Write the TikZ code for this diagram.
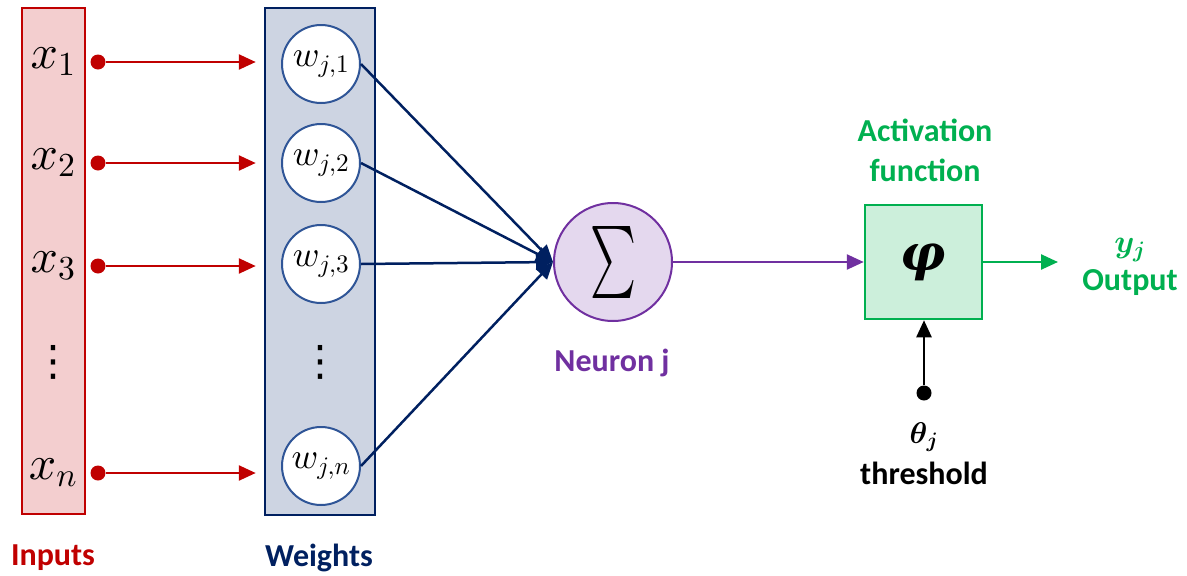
\documentclass[tikz,border=0pt]{standalone}
\usepackage[no-math]{fontspec}
\setmainfont{Carlito}
\newfontfamily\symfont{DejaVu Sans}
\newfontfamily\greekfont{DejaVu Serif}
\usepackage{bm}
\usepackage{graphicx}
\usetikzlibrary{arrows.meta,positioning}
% scalable math fonts
\DeclareFontShape{OML}{cmm}{m}{it}{<->cmmi10}{}
\DeclareFontShape{OML}{cmm}{b}{it}{<->cmmib10}{}
\DeclareFontShape{OMS}{cmsy}{m}{n}{<->cmsy10}{}
\DeclareFontShape{OMS}{cmsy}{b}{n}{<->cmbsy10}{}
\DeclareFontShape{OT1}{cmr}{m}{n}{<->cmr10}{}
\DeclareFontShape{OT1}{cmr}{bx}{n}{<->cmbx10}{}
\definecolor{inred}{RGB}{192,0,0}
\definecolor{inredfill}{RGB}{243,206,207}
\definecolor{wblue}{RGB}{0,32,96}
\definecolor{wbluefill}{RGB}{205,212,226}
\definecolor{cblue}{RGB}{47,85,151}
\definecolor{npurple}{RGB}{112,48,160}
\definecolor{npurplefill}{RGB}{228,216,238}
\definecolor{agreen}{RGB}{0,176,80}
\definecolor{agreenfill}{RGB}{204,239,219}
\tikzset{
  caption/.style = {font=\bfseries\fontsize{32}{40}\selectfont, align=center, inner sep=0pt},
  inbox/.style = {draw=inred, fill=inredfill, line width=2.5pt, inner sep=0pt,
                  minimum width=63pt, minimum height=506pt},
  wbox/.style = {draw=wblue, fill=wbluefill, line width=2.5pt, inner sep=0pt,
                 minimum width=110pt, minimum height=507pt},
  input/.style = {font=\fontsize{48}{50}\selectfont, inner sep=0pt},
  colvdots/.style = {font=\symfont\fontsize{42}{42}\selectfont, inner sep=0pt},
  weight/.style = {circle, draw=cblue, fill=white, line width=2pt, inner sep=0pt,
                   minimum size=78pt, font=\fontsize{36}{40}\selectfont},
  indot/.style = {circle, fill=inred, minimum size=15pt, inner sep=0pt},
  tip/.style = {-{Triangle[length=17pt,width=15pt]}},
}
\begin{document}
\begin{tikzpicture}[x=1pt, y=-1pt]
  \useasboundingbox (0,0) rectangle (1187,576);
  % inputs
  \node[inbox] (inputs) at (53.5,261) {};
  \node[input] (x1) at (53,62) {$x_1$};
  \node[input] (x2) at (53,163) {$x_2$};
  \node[input] (x3) at (53,266) {$x_3$};
  \node[colvdots] (xdots) at (53,362) {⋮};
  \node[input] (xn) at (53,473) {$x_n$};
  \node[caption, text=inred] (incap) at (53,558) {Inputs};
  % weights
  \node[wbox] (weights) at (320,261.5) {};
  \node[weight] (w1) at (321,64) {$w_{j,1}$};
  \node[weight] (w2) at (321,163) {$w_{j,2}$};
  \node[weight] (w3) at (321,264) {$w_{j,3}$};
  \node[colvdots] (wdots) at (320,362) {⋮};
  \node[weight] (wn) at (321,466) {$w_{j,n}$};
  \node[caption, text=wblue] (wcap) at (319,558) {Weights};
  \foreach \i/\y in {1/62, 2/163, 3/266, n/473} {
    \node[indot] (d\i) at (98,\y) {};
    \draw[tip, inred, line width=2.5pt, shorten >=8pt] (d\i) -- (d\i -| weights.west);
  }
  % neuron
  \node[circle, draw=npurple, fill=npurplefill, line width=2pt, minimum size=118pt,
        inner sep=0pt] (sum) at (613,262) {\resizebox*{46pt}{72pt}{$\sum$}};
  \node[caption, text=npurple] (ncap) at (612,363) {Neuron j};
  \foreach \w in {w1, w2, w3, wn}
    \draw[tip, wblue, line width=2.5pt] (\w.east) -- (sum.west);
  % activation
  \node[draw=agreen, fill=agreenfill, line width=2.5pt, minimum width=117pt,
        minimum height=114pt, inner sep=0pt,
        font=\greekfont\bfseries\itshape\fontsize{50}{54}\selectfont] (act) at (923.5,262) {φ};
  \node[caption, text=agreen] (actcap) at (925,150) {Activation\\function};
  \draw[tip, npurple, line width=2.5pt] (sum) -- (act);
  \coordinate (out) at (1058,262);
  \draw[tip, agreen, line width=2.5pt] (act) -- (out);
  \node[font=\fontsize{32}{34}\selectfont, text=agreen, inner sep=0pt] (yj) at (1130,250) {$\bm{y_j}$};
  \node[caption, text=agreen] (outcap) at (1130,283) {Output};
  % threshold
  \node[circle, fill=black, minimum size=15pt, inner sep=0pt] (thdot) at (924,393) {};
  \draw[tip, black, line width=2.5pt] (thdot) -- (thdot |- act.south);
  \node[font=\fontsize{30}{32}\selectfont, inner sep=0pt] (theta) at (924,437) {$\bm{\theta_j}$};
  \node[caption] (thcap) at (924,473) {threshold};
\end{tikzpicture}
\end{document}
